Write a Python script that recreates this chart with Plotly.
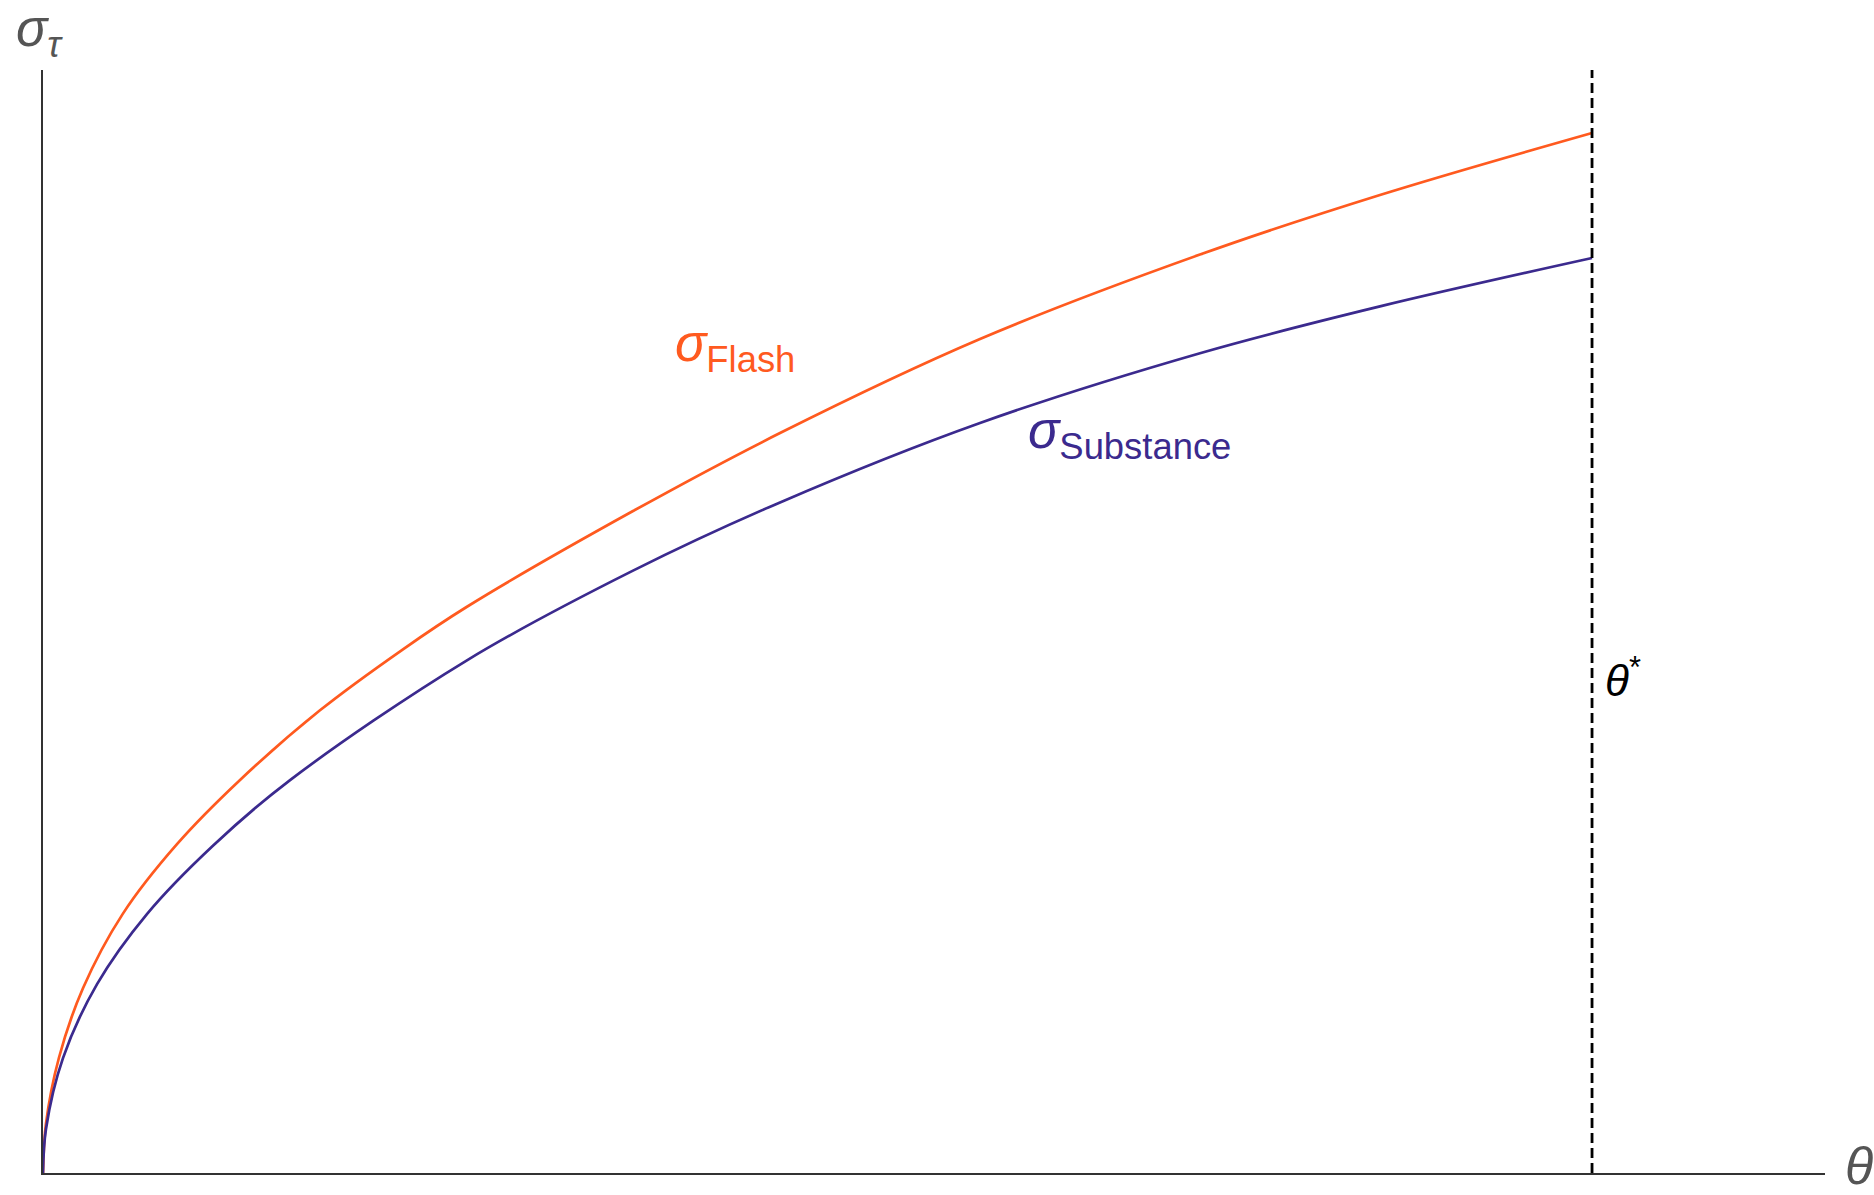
import plotly.graph_objects as go

# Data (theta normalized so theta* = 1, sigma normalized so flash end = 1)
theta_flash = [0.0, 0.0019, 0.0103, 0.0258, 0.0516, 0.0865, 0.1272, 0.1788, 0.2324,
               0.2737, 0.3809, 0.4758, 0.6049, 0.7469, 0.8631, 1.0]
sigma_flash = [0.0, 0.0471, 0.1108, 0.1776, 0.2494, 0.3162, 0.3779, 0.4449, 0.5036,
               0.5445, 0.6365, 0.7115, 0.8019, 0.8831, 0.9404, 1.0]

theta_subst = [0.0, 0.0019, 0.0129, 0.0349, 0.0671, 0.1097, 0.1595,
               0.2737, 0.3809, 0.4758, 0.6049, 0.7469, 0.8631, 1.0]
sigma_subst = [0.0, 0.0421, 0.1105, 0.1816, 0.2490, 0.3147, 0.3778,
               0.4930, 0.5792, 0.6448, 0.7212, 0.7883, 0.8333, 0.8798]

theta_star = 1.0
x_max = 1.1504
y_max = 1.0606

ORANGE = "#FF5A1F"
PURPLE = "#3B2A8E"
GRAY = "#555555"
FONT = "Liberation Sans, Arial, sans-serif"

fig = go.Figure()
fig.add_trace(go.Scatter(x=theta_flash, y=sigma_flash, mode="lines",
                         line=dict(color=ORANGE, width=2.7, shape="spline", smoothing=1.0),
                         showlegend=False, hoverinfo="skip"))
fig.add_trace(go.Scatter(x=theta_subst, y=sigma_subst, mode="lines",
                         line=dict(color=PURPLE, width=2.7, shape="spline", smoothing=1.0),
                         showlegend=False, hoverinfo="skip"))
fig.add_trace(go.Scatter(x=[theta_star, theta_star], y=[0, y_max], mode="lines",
                         line=dict(color="black", width=2.8, dash="10px,5px"),
                         showlegend=False, hoverinfo="skip"))

annotations = [
    dict(x=0.4467, y=0.7940, xref="x", yref="y", text="<i>σ</i><sub>Flash</sub>",
         showarrow=False, font=dict(family=FONT, size=52, color=ORANGE)),
    dict(x=0.7017, y=0.7110, xref="x", yref="y", text="<i>σ</i><sub>Substance</sub>",
         showarrow=False, font=dict(family=FONT, size=52, color=PURPLE)),
    dict(x=theta_star + 0.0071, y=0.4760, xref="x", yref="y", text="<i>θ</i><sup>*</sup>",
         showarrow=False, xanchor="left", font=dict(family=FONT, size=44, color="black")),
    dict(x=-0.0163, y=1.066, xref="paper", yref="paper", text="<i>σ</i><sub><i>τ</i></sub>",
         showarrow=False, xanchor="left", yanchor="top",
         font=dict(family=FONT, size=52, color=GRAY)),
    dict(x=1.0101, y=-0.022, xref="paper", yref="paper", text="<i>θ</i>",
         showarrow=False, xanchor="left",
         font=dict(family=FONT, size=52, color=GRAY)),
]

fig.update_layout(
    width=1874, height=1195, autosize=False,
    margin=dict(l=43, r=49, t=70, b=22, pad=0),
    paper_bgcolor="white", plot_bgcolor="white",
    annotations=annotations,
    xaxis=dict(range=[0, x_max], showline=True, linecolor="#333333", linewidth=2,
               showgrid=False, zeroline=False, showticklabels=False, ticks=""),
    yaxis=dict(range=[0, y_max], showline=True, linecolor="#333333", linewidth=2,
               showgrid=False, zeroline=False, showticklabels=False, ticks=""),
)

fig.write_html("out.html")
